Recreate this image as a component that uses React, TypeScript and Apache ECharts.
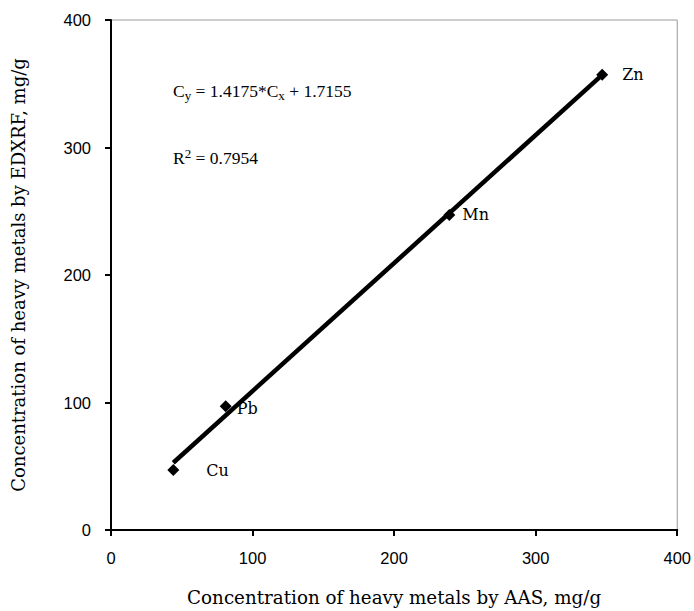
import React, { useEffect, useRef } from "react";
import * as echarts from "echarts";

const metals = ["Cu", "Pb", "Mn", "Zn"];
const aasValues = [44, 81, 239, 347];
const edxrfValues = [47, 97, 247, 357];
const axisTicks = [0, 100, 200, 300, 400];
const equationText = "1.4175*C";
const equationTail = " + 1.7155";
const r2Text = " = 0.7954";

function fitLine(xs: number[], ys: number[]) {
  const n = xs.length;
  const mx = xs.reduce((a, b) => a + b, 0) / n;
  const my = ys.reduce((a, b) => a + b, 0) / n;
  let sxx = 0;
  let sxy = 0;
  for (let i = 0; i < n; i++) {
    sxx += (xs[i] - mx) * (xs[i] - mx);
    sxy += (xs[i] - mx) * (ys[i] - my);
  }
  const slope = sxy / sxx;
  const intercept = my - slope * mx;
  const x0 = Math.min(...xs);
  const x1 = Math.max(...xs);
  return [
    [x0, slope * x0 + intercept],
    [x1, slope * x1 + intercept],
  ];
}

export default function App() {
  const ref = useRef<HTMLDivElement>(null);
  useEffect(() => {
    if (!ref.current) return;
    const chart = echarts.init(ref.current, null, { renderer: "svg" });
    const serif = "Liberation Serif";
    const titleFont = "DejaVu Serif";
    const tickFont = "Liberation Sans";
    const labelOffsets: Record<string, number[]> = {
      Cu: [22, 0],
      Pb: [0, 2],
      Mn: [2, -1],
      Zn: [9, 0],
    };
    const points = metals.map((m, i) => ({
      name: m,
      value: [aasValues[i], edxrfValues[i]],
      label: { offset: labelOffsets[m] },
    }));
    const option = {
      animation: false,
      backgroundColor: "#fff",
      grid: {
        left: 111,
        right: 15,
        top: 20,
        bottom: 81,
        show: true,
        borderColor: "#9a9a9a",
        borderWidth: 1,
      },
      xAxis: {
        type: "value",
        min: axisTicks[0],
        max: axisTicks[axisTicks.length - 1],
        interval: 100,
        name: "Concentration of heavy metals by AAS, mg/g",
        nameLocation: "middle",
        nameGap: 58,
        nameTextStyle: { fontFamily: titleFont, fontSize: 18.3, color: "#000" },
        axisLine: { show: true, onZero: false, lineStyle: { color: "#000", width: 2 } },
        axisTick: { show: true, inside: false, length: 6, lineStyle: { color: "#000", width: 2 } },
        axisLabel: { fontFamily: tickFont, fontSize: 16.5, color: "#000", margin: 19 },
        splitLine: { show: false },
      },
      yAxis: {
        type: "value",
        min: axisTicks[0],
        max: axisTicks[axisTicks.length - 1],
        interval: 100,
        name: "Concentration of heavy metals by EDXRF, mg/g",
        nameLocation: "middle",
        nameGap: 84,
        nameTextStyle: { fontFamily: titleFont, fontSize: 18, color: "#000" },
        axisLine: { show: true, onZero: false, lineStyle: { color: "#000", width: 2 } },
        axisTick: { show: true, inside: false, length: 6, lineStyle: { color: "#000", width: 2 } },
        axisLabel: { fontFamily: tickFont, fontSize: 16.5, color: "#000", margin: 20 },
        splitLine: { show: false },
      },
      series: [
        {
          type: "line",
          data: fitLine(aasValues, edxrfValues),
          symbol: "none",
          lineStyle: { color: "#000", width: 4.5 },
          silent: true,
          z: 2,
        },
        {
          type: "scatter",
          data: points,
          symbol: "diamond",
          symbolSize: 12,
          itemStyle: { color: "#000", opacity: 1 },
          label: {
            show: true,
            position: "right",
            formatter: "{b}",
            fontFamily: titleFont,
            fontSize: 16,
            color: "#000",
          },
          z: 3,
        },
      ],
      graphic: [
        {
          type: "text",
          left: 173,
          top: 82,
          style: {
            text: "C{sub|y} = " + equationText + "{sub|x}" + equationTail,
            fontFamily: serif,
            fontSize: 17.5,
            fill: "#000",
            rich: {
              sub: { fontFamily: serif, fontSize: 13, padding: [9, 0, 0, 0] },
            },
          },
        },
        {
          type: "text",
          left: 173,
          top: 147,
          style: {
            text: "R{sup|2}" + r2Text,
            fontFamily: serif,
            fontSize: 17.5,
            fill: "#000",
            rich: {
              sup: { fontFamily: serif, fontSize: 13, padding: [0, 0, 9, 0] },
            },
          },
        },
      ],
    };
    chart.setOption(option as any);
    return () => chart.dispose();
  }, []);
  return <div ref={ref} style={{ position: "absolute", left: 0, top: 0, width: 694, height: 611 }} />;
}
